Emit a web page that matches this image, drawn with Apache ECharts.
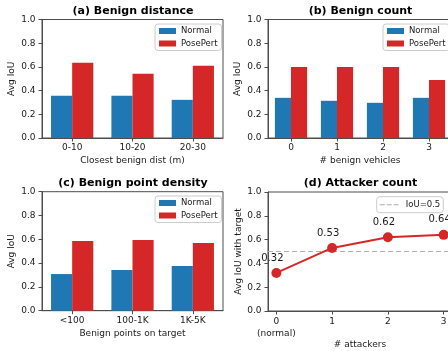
<!DOCTYPE html>
<html><head><meta charset="utf-8">
<script src="https://cdn.jsdelivr.net/npm/echarts@6/dist/echarts.min.js"></script>
<style>html,body{margin:0;padding:0;background:#fff}#c{width:448px;height:351px}</style>
</head><body><div id="c"></div>
<script>
// ---- data ----
const distCats = ['0-10', '10-20', '20-30'];
const distNormal = [0.356, 0.356, 0.322];
const distPosePert = [0.636, 0.542, 0.610];

const countCats = ['0', '1', '2', '3'];
const countNormal = [0.339, 0.314, 0.297, 0.339];
const countPosePert = [0.600, 0.600, 0.600, 0.490];

const densityCats = ['<100', '100-1K', '1K-5K'];
const densityNormal = [0.308, 0.342, 0.375];
const densityPosePert = [0.585, 0.594, 0.569];

const attackerX = [0, 1, 2, 3];
const attackerTickLabels = ['0\n(normal)', '1', '2', '3'];
const attackerIoU = [0.32, 0.53, 0.62, 0.64];
const iouThreshold = 0.5;

const titles = ['(a) Benign distance', '(b) Benign count', '(c) Benign point density', '(d) Attacker count'];

// ---- style ----
const FONT = 'DejaVu Sans';
const BLUE = '#1f77b4', RED = '#d62728', SPINE = '#4d4d4d', TXT = '#1a1a1a', REF = '#b0b0b0';

const grids = [
  {left: 42, top: 19.5, width: 181, height: 118.5},
  {left: 268, top: 19.5, width: 184, height: 118.5},
  {left: 42, top: 191.7, width: 181, height: 119},
  {left: 268, top: 192, width: 184, height: 119}
].map(g => Object.assign(g, {show: true, borderColor: SPINE, borderWidth: 1, containLabel: false, outerBoundsMode: 'none'}));

function yAxis(i, name, gap) {
  return {
    type: 'value', gridIndex: i, min: 0, max: 1, interval: 0.2,
    name: name, nameLocation: 'middle', nameGap: gap, nameRotate: 90,
    nameTextStyle: {fontFamily: FONT, fontSize: 9, color: TXT},
    axisLine: {show: true, onZero: false, lineStyle: {color: SPINE, width: 1}},
    axisTick: {show: true, length: 3.5, lineStyle: {color: SPINE}},
    axisLabel: {fontFamily: FONT, fontSize: 9, color: TXT, margin: 6.5, formatter: v => v.toFixed(1)},
    splitLine: {show: false}
  };
}
function catAxis(i, cats, name, gap) {
  return {
    type: 'category', gridIndex: i, data: cats,
    name: name, nameLocation: 'middle', nameGap: gap,
    nameTextStyle: {fontFamily: FONT, fontSize: 9, color: TXT},
    axisLine: {show: true, onZero: false, lineStyle: {color: SPINE, width: 1}},
    axisTick: {show: true, alignWithLabel: true, length: 3.5, lineStyle: {color: SPINE}},
    axisLabel: {fontFamily: FONT, fontSize: 9, color: TXT, margin: 5},
    splitLine: {show: false}
  };
}
function barLegend(left, top) {
  return {
    data: ['Normal', 'PosePert'], orient: 'vertical', left: left, top: top,
    icon: 'rect', itemWidth: 17, itemHeight: 6, itemGap: 3.5,
    padding: [2.5, 4, 2.5, 4],
    backgroundColor: 'rgba(255,255,255,0.85)', borderColor: '#cccccc', borderWidth: 1, borderRadius: 3,
    textStyle: {fontFamily: FONT, fontSize: 8.5, color: TXT},
    selectedMode: false
  };
}
function bars(i, normal, pose) {
  return [
    {name: 'Normal', type: 'bar', xAxisIndex: i, yAxisIndex: i, data: normal, barWidth: '35%', barGap: '0%', itemStyle: {color: BLUE}, silent: true},
    {name: 'PosePert', type: 'bar', xAxisIndex: i, yAxisIndex: i, data: pose, barWidth: '35%', barGap: '0%', itemStyle: {color: RED}, silent: true}
  ];
}

const titleCenters = [[133, 11], [360.5, 11], [133, 183], [360.5, 183]];

const option = {
  animation: false,
  textStyle: {fontFamily: FONT},
  grid: grids,
  xAxis: [
    catAxis(0, distCats, 'Closest benign dist (m)', 18),
    catAxis(1, countCats, '# benign vehicles', 18),
    catAxis(2, densityCats, 'Benign points on target', 18),
    {
      type: 'value', gridIndex: 3, min: -0.15, max: 3.15,
      name: '# attackers', nameLocation: 'middle', nameGap: 27.5,
      nameTextStyle: {fontFamily: FONT, fontSize: 9, color: TXT},
      axisLine: {show: true, onZero: false, lineStyle: {color: SPINE, width: 1}},
      axisTick: {show: true, length: 3.5, lineStyle: {color: SPINE}, customValues: attackerX},
      axisLabel: {fontFamily: FONT, fontSize: 9, color: TXT, margin: 5, lineHeight: 11.5,
        customValues: attackerX, formatter: v => attackerTickLabels[attackerX.indexOf(Math.round(v))]},
      splitLine: {show: false}
    }
  ],
  yAxis: [
    yAxis(0, 'Avg IoU', 26),
    yAxis(1, 'Avg IoU', 26),
    yAxis(2, 'Avg IoU', 26),
    yAxis(3, 'Avg IoU with target', 24.5)
  ],
  legend: [
    barLegend(155, 24),
    barLegend(383, 24),
    barLegend(155, 196),
    {
      data: [{name: 'IoU=0.5', icon: 'path://M0,0h5v1h-5z M7,0h5v1h-5z M14,0h5v1h-5z'}],
      left: 376.7, top: 196.7,
      itemWidth: 19, itemHeight: 1.3, padding: [3.5, 3, 3.5, 3],
      backgroundColor: 'rgba(255,255,255,0.85)', borderColor: '#cccccc', borderWidth: 1, borderRadius: 3,
      textStyle: {fontFamily: FONT, fontSize: 8.5, color: TXT, padding: [0, 0, 0, 2]},
      selectedMode: false
    }
  ],
  series: [
    ...bars(0, distNormal, distPosePert),
    ...bars(1, countNormal, countPosePert),
    ...bars(2, densityNormal, densityPosePert),
    {
      name: 'IoU=0.5', type: 'line', xAxisIndex: 3, yAxisIndex: 3, data: [],
      symbol: 'none', silent: true,
      lineStyle: {color: REF, width: 1.2, type: [5, 3]},
      itemStyle: {color: REF},
      markLine: {
        silent: true, symbol: 'none', label: {show: false},
        lineStyle: {color: REF, width: 1.2, type: [5, 3]},
        data: [{yAxis: iouThreshold}]
      }
    },
    {
      name: 'Attackers', type: 'line', xAxisIndex: 3, yAxisIndex: 3,
      data: attackerX.map((x, k) => [x, attackerIoU[k]]),
      symbol: 'circle', symbolSize: 10, silent: true,
      lineStyle: {color: RED, width: 2}, itemStyle: {color: RED},
      label: {show: true, position: 'top', distance: 5, offset: [-4, 0],
        fontFamily: FONT, fontSize: 10, color: TXT, formatter: p => p.value[1].toFixed(2)},
      z: 5
    }
  ],
  graphic: titles.map((t, k) => ({
    type: 'text', x: titleCenters[k][0], y: titleCenters[k][1],
    style: {text: t, fontFamily: FONT, fontSize: 11, fontWeight: 'bold', fill: '#000',
      textAlign: 'center', textVerticalAlign: 'middle'}
  }))
};

const chart = echarts.init(document.getElementById('c'), null, {renderer: 'canvas'});
chart.setOption(option);
</script>
</body></html>
